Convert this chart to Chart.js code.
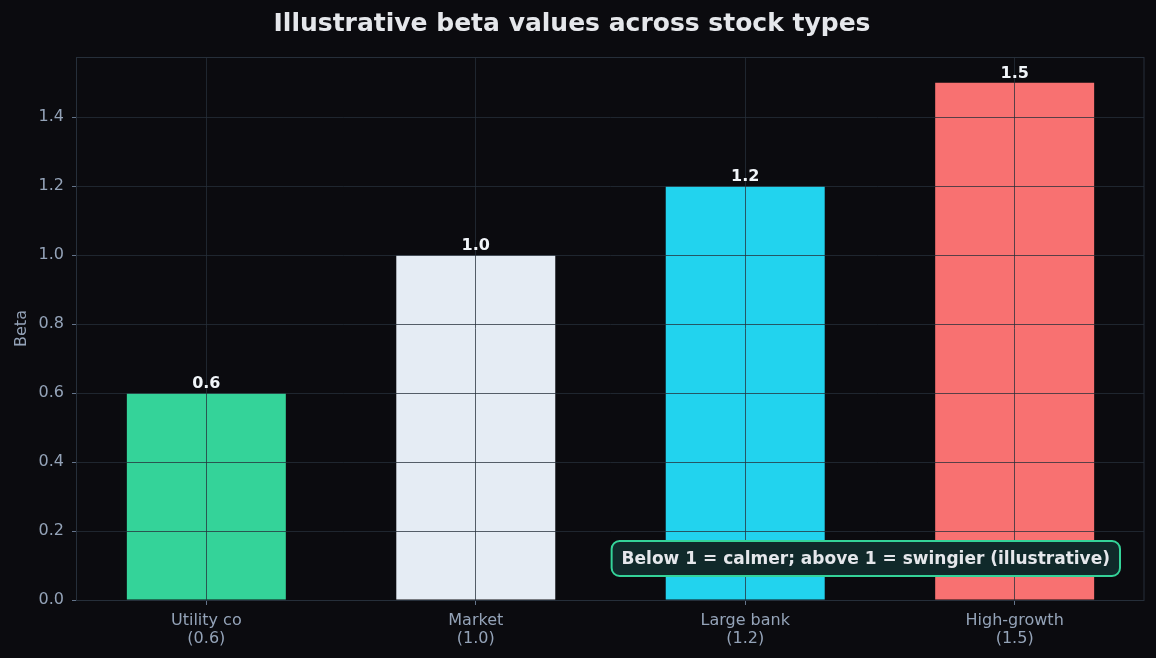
<!DOCTYPE html>
<html>
<head>
<meta charset="utf-8">
<script src="https://cdn.jsdelivr.net/npm/chart.js@4/dist/chart.umd.min.js"></script>
<style>
  html, body { margin: 0; padding: 0; background: #0b0b0f; }
  #wrap { width: 1156px; height: 658px; }
</style>
</head>
<body>
<div id="wrap"><canvas id="betaChart" width="1156" height="658"></canvas></div>
<script>
// data
const categories = ['Utility co', 'Market', 'Large bank', 'High-growth'];
const betaValues = [0.6, 1.0, 1.2, 1.5];
const barColors = ['#34d399', '#e5ecf4', '#22d3ee', '#f87171'];
const tickLabels = [['Utility co', '(0.6)'], ['Market', '(1.0)'], ['Large bank', '(1.2)'], ['High-growth', '(1.5)']];
const yTicks = [0, 0.2, 0.4, 0.6, 0.8, 1.0, 1.2, 1.4];
const noteText = 'Below 1 = calmer; above 1 = swingier (illustrative)';

const FONT = "'DejaVu Sans', sans-serif";
const gridColor = 'rgba(38, 47, 58, 0.76)';
const textGray = '#94a3b8';

// bars sit at x = 0..3 on a linear axis, like the original plot
const points = betaValues.map((v, i) => ({ x: i, y: v }));

// background + spines
const frame = {
    id: 'frame',
    beforeDraw(chart) {
        const ctx = chart.ctx;
        ctx.save();
        ctx.fillStyle = '#0b0b0f';
        ctx.fillRect(0, 0, chart.width, chart.height);
        ctx.restore();
    },
    afterDraw(chart) {
        const { ctx, chartArea: a } = chart;
        ctx.save();
        ctx.strokeStyle = '#262f3a';
        ctx.lineWidth = 1;
        ctx.strokeRect(Math.round(a.left) - 0.5, Math.round(a.top) + 0.5, Math.round(a.right - a.left) + 0.5, Math.round(a.bottom - a.top));
        ctx.restore();
    }
};

// bar value labels and the note box
const labels = {
    id: 'labels',
    afterDraw(chart) {
        const ctx = chart.ctx;
        const meta = chart.getDatasetMeta(0);
        ctx.save();
        ctx.font = "bold 16px " + FONT;
        ctx.fillStyle = '#f1f5f9';
        ctx.textAlign = 'center';
        ctx.textBaseline = 'bottom';
        meta.data.forEach((bar, i) => {
            ctx.fillText(betaValues[i].toFixed(1), bar.x, bar.y - 1);
        });

        // note box, bottom-right of plot
        ctx.font = "bold 17px " + FONT;
        const a = chart.chartArea;
        const tw = ctx.measureText(noteText).width;
        const w = tw + 20, h = 35;
        const x = a.right - 24 - w, y = a.bottom - 24 - h;
        ctx.beginPath();
        ctx.roundRect(x, y, w, h, 8);
        ctx.fillStyle = '#10292a';
        ctx.fill();
        ctx.lineWidth = 2;
        ctx.strokeStyle = '#34d399';
        ctx.stroke();
        ctx.fillStyle = '#e5e7eb';
        ctx.textBaseline = 'middle';
        ctx.fillText(noteText, x + w / 2, y + h / 2 + 1);
        ctx.restore();
    }
};

new Chart(document.getElementById('betaChart'), {
    type: 'bar',
    data: {
        datasets: [{
            data: points,
            backgroundColor: barColors,
            borderWidth: 0,
            barPercentage: 0.59,
            categoryPercentage: 1.0
        }]
    },
    options: {
        responsive: false,
        animation: false,
        layout: { padding: { left: 0, right: 12, top: 0, bottom: 0 } },
        plugins: {
            legend: { display: false },
            tooltip: { enabled: false },
            title: {
                display: true,
                text: 'Illustrative beta values across stock types',
                color: '#e5e7eb',
                font: { family: FONT, size: 25, weight: 'bold' },
                padding: { top: 9, bottom: 18 }
            }
        },
        scales: {
            x: {
                type: 'linear',
                min: -0.48,
                max: 3.48,
                offset: false,
                grid: { z: 1, offset: false, color: gridColor, drawTicks: true, tickLength: 5, tickColor: '#64748b' },
                border: { display: false },
                afterBuildTicks(scale) {
                    scale.ticks = categories.map((c, i) => ({ value: i }));
                },
                ticks: {
                    color: textGray,
                    font: { family: FONT, size: 16, lineHeight: 1.1 },
                    padding: 7,
                    maxRotation: 0,
                    autoSkip: false,
                    callback: (v, i) => tickLabels[i]
                },
                afterFit(scale) { scale.height = 58; }
            },
            y: {
                min: 0,
                max: 1.575,
                grid: { z: 1, color: gridColor, tickLength: 5, tickColor: '#64748b' },
                border: { display: false },
                afterBuildTicks(scale) {
                    scale.ticks = yTicks.map(v => ({ value: v }));
                },
                ticks: {
                    color: textGray,
                    font: { family: FONT, size: 16 },
                    padding: 8,
                    callback: v => Number(v).toFixed(1)
                },
                title: {
                    display: true,
                    text: 'Beta',
                    color: textGray,
                    font: { family: FONT, size: 16 },
                    padding: { top: 12, bottom: 4 }
                },
                afterFit(scale) { scale.width = 77; }
            }
        }
    },
    plugins: [frame, labels]
});
</script>
</body>
</html>
